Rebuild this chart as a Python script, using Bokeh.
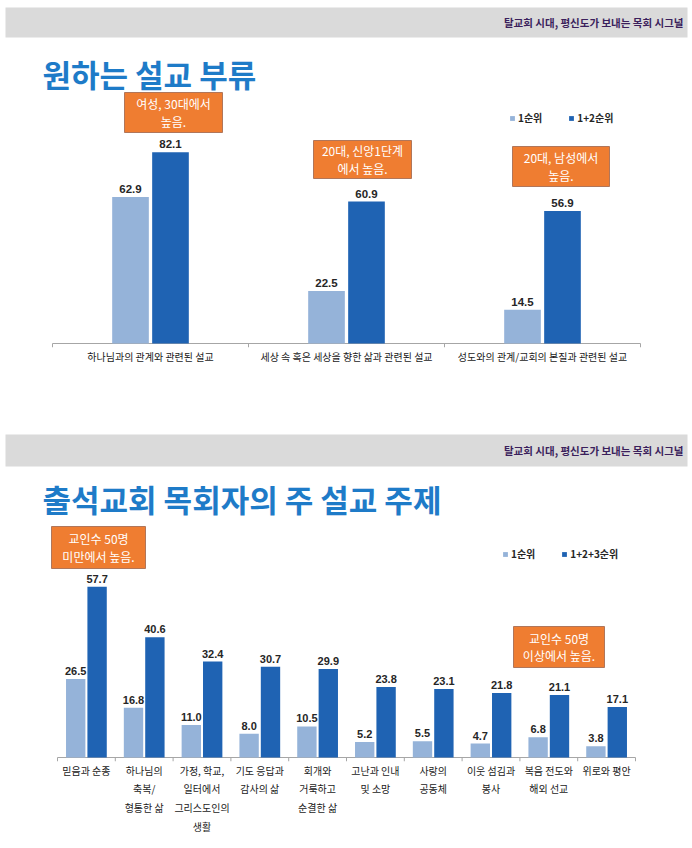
from bokeh.plotting import figure
from bokeh.models import FactorRange, Range1d, ColumnDataSource, Legend, LegendItem
from bokeh.layouts import column
from bokeh.transform import dodge
from bokeh.core.properties import value
from bokeh.embed import file_html
from bokeh.resources import INLINE

# ---------------- data ----------------
header_text = "탈교회 시대, 평신도가 보내는 목회 시그널"

title1 = "원하는 설교 부류"
cats1 = ["하나님과의 관계와 관련된 설교",
         "세상 속 혹은 세상을 향한 삶과 관련된 설교",
         "성도와의 관계/교회의 본질과 관련된 설교"]
series1 = ["1순위", "1+2순위"]
rank1_1 = [62.9, 22.5, 14.5]
rank12_1 = [82.1, 60.9, 56.9]
notes1 = ["여성, 30대에서\n높음.", "20대, 신앙1단계\n에서 높음.", "20대, 남성에서\n높음."]

title2 = "출석교회 목회자의 주 설교 주제"
cats2 = ["믿음과 순종",
         "하나님의\n축복/\n형통한 삶",
         "가정, 학교,\n일터에서\n그리스도인의\n생활",
         "기도 응답과\n감사의 삶",
         "회개와\n거룩하고\n순결한 삶",
         "고난과 인내\n및 소망",
         "사랑의\n공동체",
         "이웃 섬김과\n봉사",
         "복음 전도와\n해외 선교",
         "위로와 평안"]
series2 = ["1순위", "1+2+3순위"]
rank1_2 = [26.5, 16.8, 11.0, 8.0, 10.5, 5.2, 5.5, 4.7, 6.8, 3.8]
rank123_2 = [57.7, 40.6, 32.4, 30.7, 29.9, 23.8, 23.1, 21.8, 21.1, 17.1]
notes2 = ["교인수 50명\n미만에서 높음.", "교인수 50명\n이상에서 높음."]

# ---------------- style ----------------
W = 692
ORIGIN = 0  # page x of the figures' left edge
KR = value("Noto Sans CJK KR")
NUM = value("Liberation Sans")
LIGHT = "#95b3d9"
DARK = "#1f63b3"
ORANGE = "#ef7d31"
TITLE_BLUE = "#1e7bc8"
HEADER_GRAY = "#dadada"
HEADER_TXT = "#3b1f5c"
AXIS_GRAY = "#a6a6a6"


def chart_fig(cats, s1, s2, names, title, page_top, height, base, ppu, cat_left, cat_w,
              bottom_border, off, bw, lbl_size, cat_size, cat_lh, legend_loc,
              legend_spacing, notes, note_boxes, head_top, head_bot, title_y):
    """All positions given in page pixels; converted through the figure's scales."""
    n = len(cats)
    tick_px = 4
    frame_bottom = base + tick_px
    y0 = -tick_px / ppu
    y1 = (base - page_top) / ppu
    pad_left = (cat_left - ORIGIN) / cat_w
    pad_right = (W / cat_w - n) - pad_left
    pad_each = (pad_left + pad_right) / 2.0
    xr = FactorRange(*cats, range_padding=pad_each, range_padding_units="absolute")
    x_origin = ORIGIN + pad_each * cat_w  # page x of category 0 boundary

    def vx(px):
        return (px - x_origin) / cat_w

    def vy(py):
        return (base - py) / ppu

    p = figure(width=W, height=height, x_range=xr, y_range=Range1d(y0, y1),
               output_backend="svg", toolbar_location=None, y_axis_location=None,
               min_border_left=0, min_border_right=0, min_border_top=0,
               min_border_bottom=bottom_border, outline_line_color=None)
    p.grid.visible = False
    ax = p.xaxis[0]
    ax.axis_line_color = None
    ax.major_tick_line_color = None
    ax.major_tick_out = 0
    ax.major_tick_in = 0
    ax.major_label_text_font = "Noto Sans CJK KR"
    ax.major_label_text_font_size = cat_size
    ax.major_label_text_color = "#1a1a1a"
    ax.major_label_standoff = 1
    ax.major_label_text_line_height = cat_lh

    # header band and title
    p.quad(left=[vx(5)], right=[vx(687)], top=[vy(head_top)], bottom=[vy(head_bot)],
           fill_color=HEADER_GRAY, line_color=None)
    p.text(x=[vx(683)], y=[vy((head_top + head_bot) / 2)], text=[header_text],
           text_align="right", text_baseline="middle", text_font=KR,
           text_font_style="bold", text_font_size="10.5px", text_color=HEADER_TXT)
    p.text(x=[vx(42)], y=[vy(title_y)], text=[title], text_align="left",
           text_baseline="middle", text_font=KR, text_font_style="bold",
           text_font_size="31px", text_color=TITLE_BLUE)

    src = ColumnDataSource(dict(cat=cats, a=s1, b=s2,
                                la=[f"{v:.1f}" for v in s1],
                                lb=[f"{v:.1f}" for v in s2]))
    # baseline and category boundary ticks
    p.segment(x0=[0], y0=[0], x1=[n], y1=[0], line_color=AXIS_GRAY, line_width=1)
    p.segment(x0=list(range(n + 1)), y0=[0] * (n + 1), x1=list(range(n + 1)),
              y1=[y0] * (n + 1), line_color=AXIS_GRAY, line_width=1)

    ra = p.vbar(x=dodge("cat", -off, range=xr), top="a", width=bw, source=src,
                fill_color=LIGHT, line_color=None)
    rb = p.vbar(x=dodge("cat", off, range=xr), top="b", width=bw, source=src,
                fill_color=DARK, line_color=None)
    for col, lab, o in (("a", "la", -off), ("b", "lb", off)):
        p.text(x=dodge("cat", o, range=xr), y=col, text=lab, source=src,
               text_align="center", text_baseline="bottom", y_offset=-4,
               text_font=NUM, text_font_style="bold", text_font_size=lbl_size,
               text_color="#262626")

    # note boxes
    for txt, (xl, xh, yt, yb) in zip(notes, note_boxes):
        p.quad(left=[vx(xl)], right=[vx(xh)], top=[vy(yt)], bottom=[vy(yb)],
               fill_color=ORANGE, line_color="#b0765a", line_width=1)
        p.text(x=[vx((xl + xh) / 2)], y=[vy((yt + yb) / 2)], text=[txt],
               text_align="center", text_baseline="middle", text_font=KR,
               text_font_size="12px", text_color="white", text_line_height=1.05)

    lx, ly = legend_loc  # page px of legend's left edge and vertical center
    leg = Legend(items=[LegendItem(label=names[0], renderers=[ra]),
                        LegendItem(label=names[1], renderers=[rb])],
                 orientation="horizontal",
                 location=(lx - ORIGIN, frame_bottom - (ly + 6)),
                 glyph_width=6, glyph_height=6, label_height=12, label_standoff=3,
                 spacing=legend_spacing, padding=0, margin=0,
                 background_fill_alpha=0, border_line_color=None,
                 label_text_font="Noto Sans CJK KR", label_text_font_style="bold",
                 label_text_font_size="10px", label_text_color="#262626")
    p.add_layout(leg)
    return p


chart1 = chart_fig(cats1, rank1_1, rank12_1, series1, title1, page_top=0, height=376,
                   base=343, ppu=2.33, cat_left=52, cat_w=196, bottom_border=29,
                   off=0.102, bw=0.187, lbl_size="11.5px", cat_size="10px", cat_lh=1.15,
                   legend_loc=(509, 119), legend_spacing=26, notes=notes1,
                   note_boxes=[(124, 222, 92, 132), (313, 411, 140, 178),
                               (512, 609, 146, 186)],
                   head_top=7, head_bot=37, title_y=73)
chart2 = chart_fig(cats2, rank1_2, rank123_2, series2, title2, page_top=376, height=472,
                   base=757, ppu=2.96, cat_left=56, cat_w=57.8, bottom_border=87,
                   off=0.185, bw=0.335, lbl_size="11px", cat_size="10px", cat_lh=1.25,
                   legend_loc=(502, 555), legend_spacing=26, notes=notes2,
                   note_boxes=[(51, 145, 526, 568), (513, 604, 626, 667)],
                   head_top=434, head_bot=466, title_y=498)

layout = column(chart1, chart2, spacing=0)
open("out.html", "w").write(file_html(layout, INLINE))
